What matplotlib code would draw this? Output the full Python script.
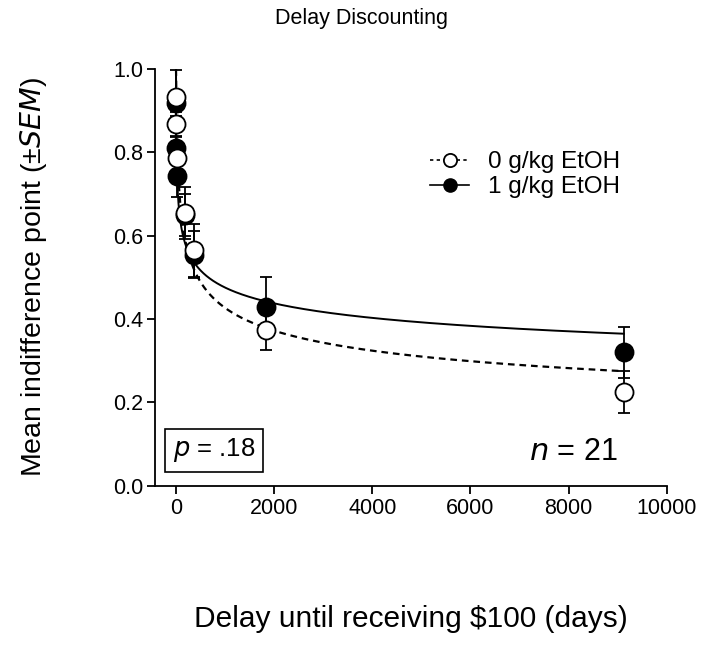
import numpy as np
import matplotlib.pyplot as plt

plt.rcParams['font.family'] = ['Liberation Sans', 'DejaVu Sans']

# ----- DANE -----
delays = [1, 7, 30, 183, 365, 1825, 9125]

mean_0g = [0.934, 0.868, 0.786, 0.655, 0.565, 0.375, 0.225]
sem_0g = [0.065, 0.03, 0.03, 0.062, 0.063, 0.05, 0.05]

mean_1g = [0.918, 0.81, 0.744, 0.65, 0.555, 0.43, 0.32]
sem_1g = [0.03, 0.03, 0.05, 0.05, 0.056, 0.07, 0.062]

# parametry dopasowania hiperboloidy V = 1/(1+kD)^s
fit_0g = (0.0695, 0.20)
fit_1g = (0.487, 0.12)

x_ticks = [0, 2000, 4000, 6000, 8000, 10000]
y_ticks = [0.0, 0.2, 0.4, 0.6, 0.8, 1.0]

# ----- WYKRES -----
fig = plt.figure(figsize=(7.01, 6.46), dpi=100)
ax = fig.add_axes([0.221, 0.248, 0.730, 0.645])

x_fit = np.linspace(0, max(delays), 2000)
k, s = fit_1g
ax.plot(x_fit, 1 / (1 + k * x_fit) ** s, color='black', lw=1.4, zorder=2)
k, s = fit_0g
ax.plot(x_fit, 1 / (1 + k * x_fit) ** s, color='black', lw=1.6, ls=(0, (3, 2.2)), zorder=2)

ax.errorbar(delays, mean_1g, yerr=sem_1g, fmt='o', color='black', ms=13,
            mfc='black', mec='black', mew=1.3, capsize=4.5, elinewidth=1.3, capthick=1.3, zorder=3)
ax.errorbar(delays, mean_0g, yerr=sem_0g, fmt='o', color='black', ms=13,
            mfc='white', mec='black', mew=1.3, capsize=4.5, elinewidth=1.3, capthick=1.3, zorder=4)

# legenda
h0, = ax.plot([], [], color='black', ls=(0, (2, 2)), lw=1.2, marker='o', ms=9.5, mfc='white', mec='black', mew=1.3)
h1, = ax.plot([], [], color='black', ls='-', lw=1.2, marker='o', ms=9.5, mfc='black', mec='black')
ax.legend([h0, h1], ['0 g/kg EtOH', '1 g/kg EtOH'], loc='upper left', bbox_to_anchor=(0.495, 0.855),
          frameon=False, fontsize=17.5, handlelength=1.6, labelspacing=0.12, handletextpad=0.8)

ax.set_xlim(-430, 10000)
ax.set_ylim(0, 1.0)
ax.set_xticks(x_ticks)
ax.set_yticks(y_ticks)
ax.set_yticklabels([f"{v:.1f}" for v in y_ticks])
ax.spines['top'].set_visible(False)
ax.spines['right'].set_visible(False)
ax.spines['left'].set_linewidth(1.3)
ax.spines['bottom'].set_linewidth(1.3)
ax.tick_params(axis='both', labelsize=15.5, width=1.3, length=5.5, direction='out', pad=3)

ax.text(0.035, 0.085, r'$\it{p}$ = .18', transform=ax.transAxes, fontsize=18.5,
        va='center', ha='left', bbox=dict(boxstyle='square,pad=0.3', fc='white', ec='black', lw=1.2))
ax.text(0.905, 0.08, r'$\it{n}$ = 21', transform=ax.transAxes, fontsize=22, va='center', ha='right')

fig.text(0.515, 0.972, 'Delay Discounting', fontsize=15.5, ha='center', va='center')
ax.set_ylabel(r'Mean indifference point (±$\it{SEM}$)', fontsize=20.5, labelpad=46)
ax.set_xlabel('Delay until receiving $100 (days)', fontsize=21.5, labelpad=62)

plt.savefig('out.png', dpi=100)
